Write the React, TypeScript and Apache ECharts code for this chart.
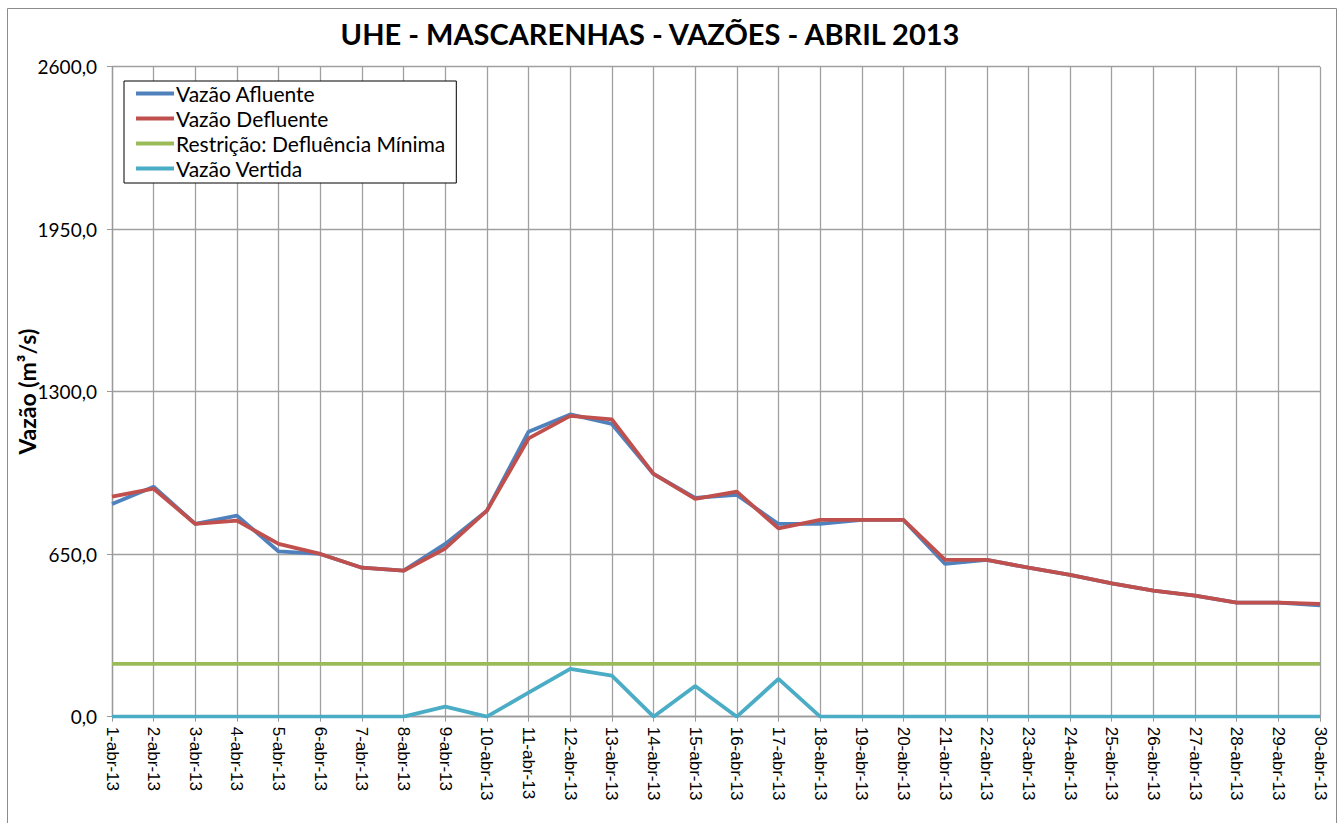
import React, { useEffect, useRef } from "react";
import * as echarts from "echarts";

const categories = [
  "1-abr-13", "2-abr-13", "3-abr-13", "4-abr-13", "5-abr-13", "6-abr-13", "7-abr-13", "8-abr-13",
  "9-abr-13", "10-abr-13", "11-abr-13", "12-abr-13", "13-abr-13", "14-abr-13", "15-abr-13",
  "16-abr-13", "17-abr-13", "18-abr-13", "19-abr-13", "20-abr-13", "21-abr-13", "22-abr-13",
  "23-abr-13", "24-abr-13", "25-abr-13", "26-abr-13", "27-abr-13", "28-abr-13", "29-abr-13", "30-abr-13",
];

const afluente = [
  851, 920, 771, 804, 661, 651, 596, 584, 691, 824, 1140, 1209, 1171, 971, 875,
  887, 771, 771, 787, 787, 611, 627, 596, 567, 533, 504, 484, 456, 456, 445,
];

const defluente = [
  880, 912, 771, 784, 691, 651, 596, 584, 673, 824, 1113, 1203, 1189, 971, 871,
  900, 753, 787, 787, 787, 627, 627, 596, 567, 533, 504, 484, 456, 456, 451,
];

const defluenciaMinima = [
  211, 211, 211, 211, 211, 211, 211, 211, 211, 211, 211, 211, 211, 211, 211,
  211, 211, 211, 211, 211, 211, 211, 211, 211, 211, 211, 211, 211, 211, 211,
];

const vertida = [
  0, 0, 0, 0, 0, 0, 0, 0, 40, 0, 96, 191, 164, 0, 123,
  0, 151, 0, 0, 0, 0, 0, 0, 0, 0, 0, 0, 0, 0, 0,
];

const seriesNames = [
  "Vazão Afluente",
  "Vazão Defluente",
  "Restrição: Defluência Mínima",
  "Vazão Vertida",
];
const colors = ["#4F81BD", "#C0504D", "#9BBB59", "#4BACC6"];

export default function App() {
  const ref = useRef<HTMLDivElement>(null);
  useEffect(() => {
    if (!ref.current) return;
    const chart = echarts.init(ref.current, undefined, { renderer: "svg" });
    const values = [afluente, defluente, defluenciaMinima, vertida];
    chart.setOption({
      animation: false,
      backgroundColor: "#ffffff",
      color: colors,
      title: {
        text: "UHE - MASCARENHAS - VAZÕES - ABRIL 2013",
        left: 645,
        top: 14,
        textAlign: "center",
        textStyle: { fontFamily: "Lato", fontWeight: "bold", fontSize: 29, color: "#000" },
      },
      graphic: [
        {
          type: "rect",
          shape: { x: 7.5, y: 8.5, width: 1329, height: 830 },
          style: { fill: "none", stroke: "#8c8c8c", lineWidth: 1 },
          silent: true,
          z: -1,
        },
      ],
      legend: {
        orient: "vertical",
        left: 124,
        top: 81,
        data: seriesNames,
        icon: "rect",
        itemWidth: 38,
        itemHeight: 4,
        itemGap: 0,
        padding: [0, 11, 2, 12],
        borderColor: "#000",
        borderWidth: 1,
        backgroundColor: "#fff",
        textStyle: { fontFamily: "Lato", fontSize: 21, color: "#000", lineHeight: 25, padding: [0, 0, 0, -3] },
        z: 10,
      },
      grid: { left: 112, right: 20, top: 66.7, bottom: 106.3, containLabel: false },
      xAxis: {
        type: "category",
        data: categories,
        boundaryGap: false,
        axisLine: { lineStyle: { color: "#999", width: 1.3 } },
        axisTick: { show: true, length: 5, lineStyle: { color: "#999" } },
        splitLine: { show: true, lineStyle: { color: "#a0a0a0", width: 1.3 } },
        axisLabel: {
          rotate: -90,
          interval: 0,
          margin: 10,
          fontFamily: "Liberation Sans",
          fontSize: 17,
          color: "#000",
        },
      },
      yAxis: {
        type: "value",
        min: 0,
        max: 2600,
        interval: 650,
        name: "Vazão (m³/s)",
        nameLocation: "middle",
        nameGap: 74,
        nameRotate: 90,
        nameMoveOverlap: false,
        nameTextStyle: { fontFamily: "Lato", fontWeight: "bold", fontSize: 23, color: "#000" },
        axisLine: { show: true, lineStyle: { color: "#999", width: 1.3 } },
        axisTick: { show: true, length: 5, lineStyle: { color: "#999" } },
        splitLine: { show: true, lineStyle: { color: "#a0a0a0", width: 1.3 } },
        axisLabel: {
          margin: 15,
          fontFamily: "Lato",
          fontSize: 19,
          color: "#000",
          formatter: (v: number) => v.toFixed(1).replace(".", ","),
        },
      },
      series: seriesNames.map((name, i) => ({
        name,
        type: "line",
        data: values[i],
        showSymbol: false,
        symbol: "none",
        lineStyle: { width: 3.8, color: colors[i] },
        itemStyle: { color: colors[i] },
        z: 3 + i,
      })),
    });
    return () => chart.dispose();
  }, []);
  return (
    <div
      ref={ref}
      style={{ position: "absolute", left: 0, top: 0, width: 1340, height: 823 }}
    />
  );
}
